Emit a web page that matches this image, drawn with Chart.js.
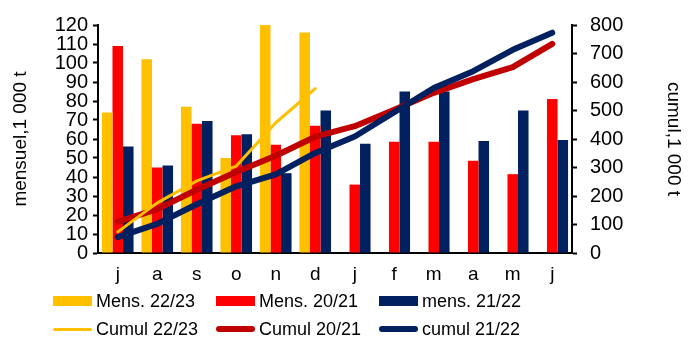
<!DOCTYPE html>
<html>
<head>
<meta charset="utf-8">
<script src="https://cdn.jsdelivr.net/npm/chart.js@4.4.0/dist/chart.umd.min.js"></script>
<style>
  body { margin: 0; background: #fff; }
  #wrap { position: relative; width: 696px; height: 343px; font-family: "Liberation Sans", Arial, sans-serif; }
  canvas { position: absolute; left: 0; top: 0; }
  .lg { position: absolute; font-size: 18px; color: #000; line-height: 20px; white-space: nowrap; }
  .sw { position: absolute; }
</style>
</head>
<body>
<div id="wrap">
  <canvas id="MixChart" width="696" height="343"></canvas>
  <div id="legend"></div>
</div>
<script>
const months = ["j", "a", "s", "o", "n", "d", "j", "f", "m", "a", "m", "j"];

// monthly values, 1 000 t (left axis)
const mens2223 = [74, 102, 77, 50, 120, 116, null, null, null, null, null, null];
const mens2021 = [109, 45, 68, 62, 57, 67, 36, 58.5, 58.5, 48.5, 41.5, 81];
const mens2122 = [56, 46, 69.5, 62.5, 42, 75, 57.5, 85, 85, 59, 75, 59.5];

// cumulative values, 1 000 t (right axis)
const cumul2223 = [74, 176, 253, 305, 457, 577, null, null, null, null, null, null];
const cumul2021 = [109, 154, 222, 284, 341, 408, 445, 503, 562, 610, 652, 734];
const cumul2122 = [56, 102, 171, 234, 276, 351, 409, 494, 579, 638, 713, 773];

const yellow = "#FFC000";
const red = "#FF0000";
const darkRed = "#C00000";
const navy = "#002060";

const fontFam = "'Liberation Sans', Arial, sans-serif";

function lineSet(label, data, color, width) {
	return {
		type: "line",
		label: label,
		data: data,
		yAxisID: "y1",
		borderColor: color,
		backgroundColor: color,
		borderWidth: width,
		pointRadius: 0,
		borderCapStyle: "round",
		borderJoinStyle: "round",
		tension: 0,
		spanGaps: false,
		order: 0,
	};
}

function barSet(label, data, color) {
	return {
		type: "bar",
		label: label,
		data: data,
		yAxisID: "y",
		backgroundColor: color,
		borderWidth: 0,
		categoryPercentage: 0.8,
		barPercentage: 1,
		order: 1,
	};
}

const ctx = document.getElementById("MixChart");

new Chart(ctx, {
	data: {
		labels: months,
		datasets: [
			lineSet("Cumul 22/23", cumul2223, yellow, 3),
			lineSet("cumul 21/22", cumul2122, navy, 6),
			lineSet("Cumul 20/21", cumul2021, darkRed, 6),
			barSet("Mens. 22/23", mens2223, yellow),
			barSet("Mens. 20/21", mens2021, red),
			barSet("mens. 21/22", mens2122, navy),
		],
	},
	options: {
		responsive: false,
		animation: false,
		layout: { padding: { top: 20, bottom: 55, left: 0, right: 0 } },
		plugins: {
			legend: { display: false },
			tooltip: { enabled: false },
		},
		scales: {
			x: {
				grid: { display: true, drawOnChartArea: false, drawTicks: false },
				border: { color: "#000", width: 2 },
				ticks: { color: "#000", font: { family: fontFam, size: 19 }, padding: 10, maxRotation: 0 },
				afterFit: function (s) { s.height = 35; },
			},
			y: {
				position: "left",
				min: 0,
				max: 120,
				ticks: { stepSize: 10, autoSkip: false, color: "#000", font: { family: fontFam, size: 20 }, padding: 5 },
				grid: { display: true, drawOnChartArea: false, drawTicks: true, tickLength: 5, color: "#000", tickWidth: 2 },
				border: { color: "#000", width: 2 },
				title: { display: true, text: "mensuel,1 000 t", color: "#000", font: { family: fontFam, size: 19 }, padding: { top: 9, bottom: 0 } },
				afterFit: function (s) { s.width = 98; },
			},
			y1: {
				position: "right",
				min: 0,
				max: 800,
				ticks: { stepSize: 100, autoSkip: false, color: "#000", font: { family: fontFam, size: 20 }, padding: 13 },
				grid: { display: true, drawOnChartArea: false, drawTicks: true, tickLength: 5, color: "#000", tickWidth: 2 },
				border: { color: "#000", width: 2 },
				title: { display: true, text: "cumul,1 000 t", color: "#000", font: { family: fontFam, size: 19 }, padding: { top: 11, bottom: 0 } },
				afterFit: function (s) { s.width = 124; },
			},
		},
	},
});

// legend laid out in a 3 x 2 grid like the original
const legendItems = [
	{ text: "Mens. 22/23", color: yellow, kind: "bar", x: 53, y: 301 },
	{ text: "Mens. 20/21", color: red, kind: "bar", x: 216, y: 301 },
	{ text: "mens. 21/22", color: navy, kind: "bar", x: 379, y: 301 },
	{ text: "Cumul 22/23", color: yellow, kind: "line", w: 3, x: 53, y: 329 },
	{ text: "Cumul 20/21", color: darkRed, kind: "line", w: 6, x: 216, y: 329 },
	{ text: "cumul 21/22", color: navy, kind: "line", w: 6, x: 379, y: 329 },
];

const legendBox = document.getElementById("legend");
for (const item of legendItems) {
	const sw = document.createElement("div");
	sw.className = "sw";
	const h = item.kind === "bar" ? 10 : item.w;
	sw.style.left = item.x + "px";
	sw.style.top = (item.y - h / 2) + "px";
	sw.style.width = "39px";
	sw.style.height = h + "px";
	sw.style.background = item.color;
	if (item.kind === "line") sw.style.borderRadius = (h / 2) + "px";
	legendBox.appendChild(sw);

	const t = document.createElement("div");
	t.className = "lg";
	t.textContent = item.text;
	t.style.left = (item.x + 43) + "px";
	t.style.top = (item.y - 10) + "px";
	legendBox.appendChild(t);
}
</script>
</body>
</html>
